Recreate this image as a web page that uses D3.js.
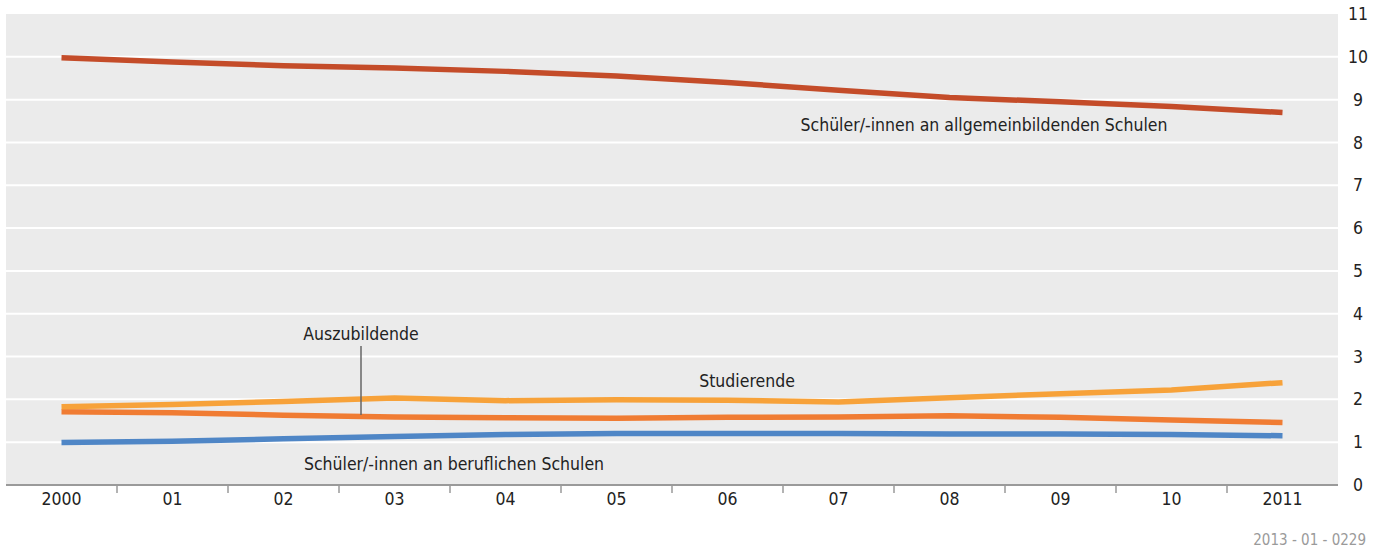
<!DOCTYPE html>
<html><head><meta charset="utf-8">
<script src="https://cdn.jsdelivr.net/npm/d3@7"></script>
<style>
html,body{margin:0;padding:0;background:#fff;}
text{font-family:"DejaVu Sans Condensed","Liberation Sans Narrow",sans-serif;fill:#222;}
</style></head>
<body><svg id="c" width="1381" height="549"></svg>
<script>
const years = ["2000","01","02","03","04","05","06","07","08","09","10","2011"];
const allgemein = [9.98, 9.88, 9.79, 9.74, 9.66, 9.55, 9.40, 9.22, 9.05, 8.95, 8.84, 8.70];
const studierende = [1.83, 1.88, 1.95, 2.03, 1.97, 1.99, 1.98, 1.94, 2.04, 2.13, 2.22, 2.39];
const auszubildende = [1.71, 1.69, 1.63, 1.59, 1.57, 1.56, 1.58, 1.59, 1.62, 1.58, 1.52, 1.46];
const beruflich = [0.99, 1.02, 1.08, 1.13, 1.18, 1.20, 1.20, 1.20, 1.19, 1.19, 1.18, 1.15];
const yTicks = [0,1,2,3,4,5,6,7,8,9,10,11];

const FONT = '"DejaVu Sans Condensed","Liberation Sans Narrow",sans-serif';
const svg = d3.select("#c");
const L = 6, R = 1338, T = 14, B = 485;
const x = d3.scaleBand().domain(years).range([L, R]);
const y = d3.scaleLinear().domain([0, 11]).range([B, T]);
const cx = d => x(d) + x.bandwidth()/2;

svg.append("rect").attr("x", L).attr("y", T).attr("width", R-L).attr("height", B-T).attr("fill", "#ebebeb");

// gridlines
svg.append("g").selectAll("line").data(yTicks.filter(t => t > 0 && t < 11)).join("line")
  .attr("x1", L).attr("x2", R).attr("y1", d => y(d)).attr("y2", d => y(d))
  .attr("stroke", "#fff").attr("stroke-width", 2);

// y axis labels (right)
const yAxis = d3.axisRight(y).tickValues(yTicks).tickSize(0).tickPadding(0).tickFormat(d3.format("d"));
const gy = svg.append("g").attr("transform", `translate(${R+20},0)`).call(yAxis);
gy.select(".domain").remove();
gy.selectAll("text").attr("font-size", 17.5).attr("text-anchor", "middle").style("fill", "#222")
  .style("font-family", FONT);

// x axis
const xAxis = d3.axisBottom(x).tickSize(0).tickPadding(8);
const gx = svg.append("g").attr("transform", `translate(0,${B})`).call(xAxis);
gx.select(".domain").remove();
gx.selectAll("text").attr("font-size", 17.5).style("fill", "#222")
  .style("font-family", FONT);
svg.append("line").attr("x1", L).attr("x2", R).attr("y1", B).attr("y2", B)
  .attr("stroke", "#9a9a9a").attr("stroke-width", 2);
svg.append("g").selectAll("line").data(years.slice(1)).join("line")
  .attr("x1", d => x(d)).attr("x2", d => x(d)).attr("y1", B).attr("y2", B+8)
  .attr("stroke", "#9a9a9a").attr("stroke-width", 1.5);

// lines
const series = [
  {v: allgemein, c: "#c44c29"},
  {v: beruflich, c: "#4f86c6"},
  {v: auszubildende, c: "#f07c33"},
  {v: studierende, c: "#f7a23a"}
];
const line = d3.line().x((d,i) => cx(years[i])).y(d => y(d));
svg.append("g").selectAll("path").data(series).join("path")
  .attr("d", d => line(d.v)).attr("fill", "none").attr("stroke", d => d.c)
  .attr("stroke-width", 5.5);

// annotations
const ann = svg.append("g").attr("font-size", 17.5);
ann.append("text").attr("x", 984).attr("y", 131).attr("text-anchor", "middle").text("Schüler/-innen an allgemeinbildenden Schulen");
ann.append("text").attr("x", 361).attr("y", 340).attr("text-anchor", "middle").text("Auszubildende");
ann.append("text").attr("x", 747).attr("y", 387).attr("text-anchor", "middle").text("Studierende");
ann.append("text").attr("x", 454).attr("y", 470).attr("text-anchor", "middle").text("Schüler/-innen an beruflichen Schulen");
svg.append("line").attr("x1", 361).attr("x2", 361).attr("y1", 346).attr("y2", 415)
  .attr("stroke", "#666").attr("stroke-width", 1.5);

svg.append("text").attr("x", 1366).attr("y", 545).attr("text-anchor", "end").attr("font-size", 15)
  .style("fill", "#9a9a9a").text("2013 - 01 - 0229");
</script></body></html>
